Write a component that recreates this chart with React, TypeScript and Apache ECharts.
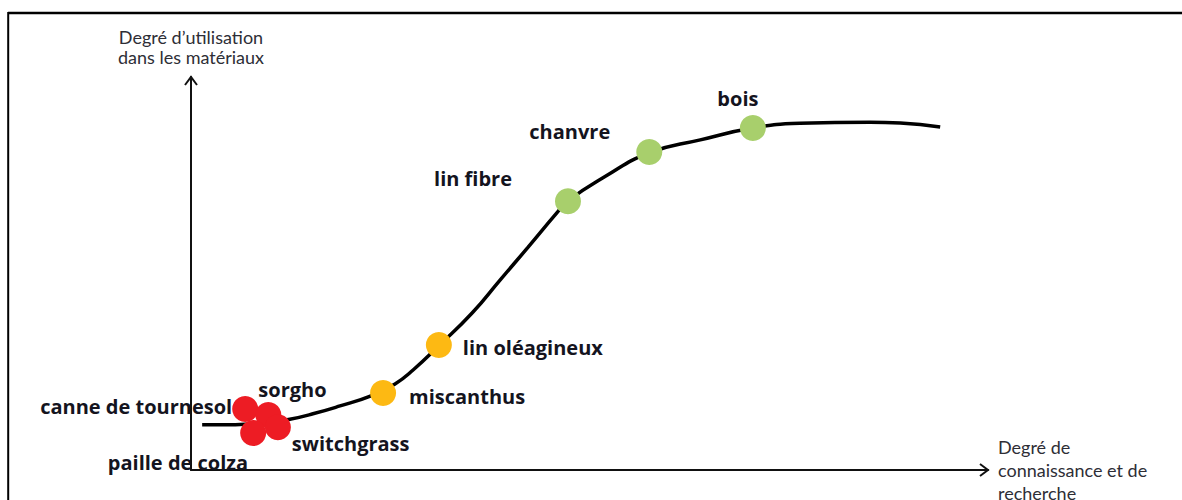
import React, { useEffect, useRef } from "react";
import * as echarts from "echarts";

// Curve of the maturity path (x: knowledge & research, y: use in materials), 0-100 units
const curveX = [1.4, 4.3, 7.4, 9.9, 12.4, 15.3, 18.7, 22.5, 25.6, 27.9, 31.1, 35.3, 38.8, 42.3, 45.9, 47.3, 51.9, 57.5, 63.9, 70.5, 76.4, 85.2, 89.0, 94.0];
const curveY = [11.5, 11.5, 11.7, 12.1, 12.9, 14.3, 16.3, 18.8, 21.9, 25.5, 31.6, 40.0, 48.4, 56.7, 65.4, 68.5, 74.6, 80.7, 84.0, 87.0, 88.2, 88.5, 88.3, 87.3];

// Crops placed on the curve
const cropNames = [
  "canne de tournesol",
  "sorgho",
  "paille de colza",
  "switchgrass",
  "miscanthus",
  "lin oléagineux",
  "lin fibre",
  "chanvre",
  "bois",
];
const cropX = [6.8, 9.7, 7.8, 10.9, 24.1, 31.1, 47.3, 57.5, 70.5];
const cropY = [15.5, 14.0, 9.4, 10.9, 19.6, 31.8, 68.4, 80.9, 87.0];
const cropGroup = ["faible", "faible", "faible", "faible", "moyen", "moyen", "fort", "fort", "fort"];

const yAxisTitle = "Degré d’utilisation\ndans les matériaux";
const xAxisTitle = "Degré de\nconnaissance et de\nrecherche";

// Styles (kept apart from the data)
const groupColors: Record<string, string> = {
  faible: "#ED1C24",
  moyen: "#FDB913",
  fort: "#A8CF6C",
};
const labelLayout: Record<string, { offset: [number, number]; align: string }> = {
  "canne de tournesol": { offset: [-13, -3], align: "right" },
  sorgho: { offset: [-10, -25], align: "left" },
  "paille de colza": { offset: [-5, 29], align: "right" },
  switchgrass: { offset: [14, 16], align: "left" },
  miscanthus: { offset: [26, 4], align: "left" },
  "lin oléagineux": { offset: [24, 2], align: "left" },
  "lin fibre": { offset: [-56, -23], align: "right" },
  chanvre: { offset: [-39, -21], align: "right" },
  bois: { offset: [-15, -30], align: "center" },
};

export default function App() {
  const ref = useRef<HTMLDivElement>(null);

  useEffect(() => {
    document.body.style.margin = "0";
    if (!ref.current) return;
    const chart = echarts.init(ref.current, undefined, { renderer: "svg" });

    const curveData = curveX.map((x, i) => [x, curveY[i]]);
    const cropData = cropNames.map((name, i) => ({
      name,
      value: [cropX[i], cropY[i]],
      itemStyle: { color: groupColors[cropGroup[i]], opacity: 1 },
      label: {
        show: true,
        position: "inside",
        offset: labelLayout[name].offset,
        align: labelLayout[name].align,
        verticalAlign: "middle",
      },
    }));

    const axisCommon = {
      type: "value" as const,
      min: 0,
      max: 100,
      axisLine: { show: true, lineStyle: { color: "#111", width: 2 } },
      axisTick: { show: false },
      axisLabel: { show: false },
      splitLine: { show: false },
      nameLocation: "end" as const,
    };

    chart.setOption({
      animation: false,
      backgroundColor: "#fff",
      grid: { left: 191, top: 77, right: 194, bottom: 30, outerBoundsMode: "none", containLabel: false },
      xAxis: {
        ...axisCommon,
        name: xAxisTitle,
        nameGap: 10,
        nameTextStyle: {
          fontFamily: "Lato",
          fontSize: 18,
          color: "#2e2e36",
          align: "left",
          verticalAlign: "middle",
          lineHeight: 23,
        },
      },
      yAxis: {
        ...axisCommon,
        name: yAxisTitle,
        nameGap: 10,
        nameTextStyle: {
          fontFamily: "Lato",
          fontSize: 18,
          color: "#2e2e36",
          align: "center",
          verticalAlign: "bottom",
          lineHeight: 20,
        },
      },
      graphic: [
        {
          type: "line",
          shape: { x1: 8, y1: 13, x2: 1182, y2: 13 },
          style: { stroke: "#000", lineWidth: 2.5 },
        },
        {
          type: "line",
          shape: { x1: 8.2, y1: 12, x2: 8.2, y2: 500 },
          style: { stroke: "#000", lineWidth: 2 },
        },
        {
          type: "polyline",
          shape: { points: [[185, 85], [191, 77], [197, 85]] },
          style: { stroke: "#111", lineWidth: 2, fill: null },
        },
        {
          type: "polyline",
          shape: { points: [[980, 464], [988, 470], [980, 476]] },
          style: { stroke: "#111", lineWidth: 2, fill: null },
        },
      ],
      series: [
        {
          type: "line",
          data: curveData,
          smooth: 0.5,
          showSymbol: false,
          lineStyle: { color: "#000", width: 3.5 },
          z: 2,
        },
        {
          type: "scatter",
          data: cropData,
          symbolSize: 26,
          z: 3,
          label: {
            formatter: "{b}",
            fontFamily: "Open Sans",
            fontWeight: "bold",
            fontSize: 20,
            color: "#14141e",
          },
        },
      ],
    });

    return () => chart.dispose();
  }, []);

  return <div ref={ref} style={{ width: 1182, height: 500 }} />;
}
